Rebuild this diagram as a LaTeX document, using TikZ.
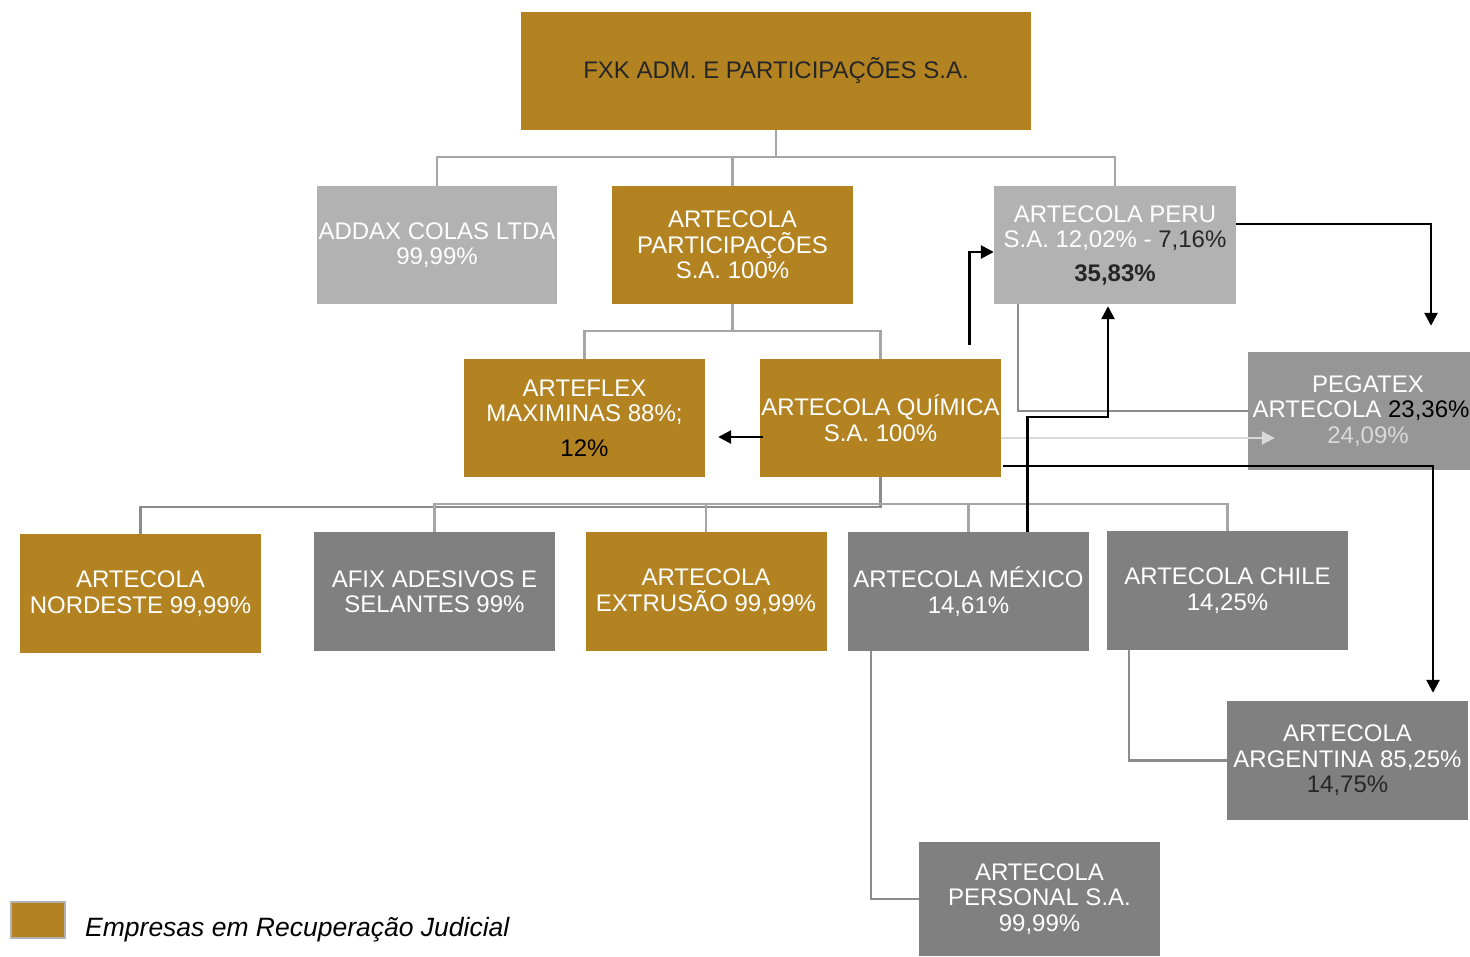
\documentclass[tikz,border=0pt]{standalone}
\usepackage{fontspec}
\setmainfont{Liberation Sans}
\usetikzlibrary{arrows.meta}
\definecolor{gold}{RGB}{179,131,34}
\definecolor{lgray}{RGB}{178,178,178}
\definecolor{mgray}{RGB}{150,150,150}
\definecolor{dgray}{RGB}{128,128,128}
\definecolor{conntop}{RGB}{166,166,166}
\definecolor{connbot}{RGB}{140,140,140}
\definecolor{darktext}{RGB}{38,38,38}
\definecolor{paletext}{RGB}{217,217,217}
\begin{document}
\begin{tikzpicture}[x=1pt,y=-1pt,
  box/.style={rectangle, minimum width=241pt, minimum height=118pt, inner sep=0pt,
    align=center, text=white, font=\fontsize{24}{25.5}\selectfont},
  goldbox/.style={box, fill=gold},
  lightbox/.style={box, fill=lgray},
  midbox/.style={box, fill=mgray},
  darkbox/.style={box, fill=dgray},
  conn/.style={draw=conntop, line width=2.4pt},
  connb/.style={draw=connbot, line width=2.6pt},
  arr/.style={draw=black, line width=2.6pt, -{Triangle[length=13pt,width=13pt]}},
  parr/.style={draw=paletext, line width=2.4pt, -{Triangle[length=13pt,width=13pt]}},
  legsq/.style={rectangle, fill=gold, draw=lgray, line width=2pt, minimum width=54pt, minimum height=36pt, inner sep=0pt}
]
\useasboundingbox (0,0) rectangle (1470,956);

% boxes
\node[goldbox, minimum width=510pt, text=darktext] (fxk) at (776,71) {FXK ADM. E PARTICIPAÇÕES S.A.};
\node[lightbox, minimum width=240pt] (addax) at (437,245) {ADDAX COLAS LTDA\\99,99\%};
\node[goldbox] (part) at (732.5,245) {ARTECOLA\\PARTICIPAÇÕES\\S.A. 100\%};
\node[lightbox, minimum width=242pt] (peru) at (1115,245) {ARTECOLA PERU\\S.A. 12,02\% - \textcolor{darktext}{7,16\%}\\[8pt]\textcolor{darktext}{\bfseries 35,83\%}};
\node[goldbox] (artf) at (584.5,418) {ARTEFLEX\\MAXIMINAS 88\%;\\[9pt]\textcolor{black}{12\%}};
\node[goldbox] (quim) at (880.5,418) {ARTECOLA QUÍMICA\\S.A. 100\%};
\node[midbox, minimum width=222pt] (peg) at (1359,411) {\hspace*{18pt}PEGATEX\\\hspace*{4pt}ARTECOLA \textcolor{black}{23,36\%}\\\hspace*{18pt}\textcolor{paletext}{24,09\%}};
\node[goldbox, minimum height=119pt] (nord) at (140.5,593.5) {ARTECOLA\\NORDESTE 99,99\%};
\node[darkbox, minimum height=119pt] (afix) at (434.5,591.5) {AFIX ADESIVOS E\\SELANTES 99\%};
\node[goldbox, minimum height=119pt] (extr) at (706,591.5) {ARTECOLA\\EXTRUSÃO 99,99\%};
\node[darkbox, minimum height=119pt] (mex) at (968.5,591.5) {ARTECOLA MÉXICO\\14,61\%};
\node[darkbox, minimum height=119pt] (chile) at (1227.5,590.5) {ARTECOLA CHILE\\14,25\%};
\node[darkbox, minimum height=119pt] (arg) at (1347.5,760.5) {ARTECOLA\\ARGENTINA 85,25\%\\\textcolor{darktext}{14,75\%}};
\node[darkbox, minimum height=114pt] (pers) at (1039.5,899) {ARTECOLA\\PERSONAL S.A.\\99,99\%};

% legend
\node[legsq] (leg) at (37.5,919.5) {};
\node[anchor=west, inner sep=0pt, font=\fontsize{26.5}{28}\selectfont\itshape, text=black] (legtxt) at (85,930) {Empresas em Recuperação Judicial};

% top tree connectors
\draw[conn] (fxk.south) -- ++(0,27) coordinate (bus1);
\draw[conn] (addax.north) -- (addax.north |- bus1) -- (peru.north |- bus1) -- (peru.north);
\draw[conn] (part.north) -- (part.north |- bus1);
\draw[conn] (part.south) -- ++(0,27) coordinate (bus2);
\draw[conn] (artf.north) -- (artf.north |- bus2) -- (quim.north |- bus2) -- (quim.north);

% lower tree connectors
\coordinate (busA) at (0,507);
\coordinate (busB) at (0,504);
\draw[connb] (quim.south) -- (quim.south |- busA) -- (nord.north |- busA) -- (nord.north);
\draw[conn] (afix.north) -- (afix.north |- busB) -- (chile.north |- busB) -- (chile.north);
\draw[conn] (extr.north) -- (extr.north |- busB);
\draw[conn] (mex.north) -- (mex.north |- busB);

% side gray connectors
\draw[connb] ([xshift=24pt]peru.south west) |- (peg.west);
\draw[connb] ([xshift=23pt]mex.south west) |- (pers.west);
\draw[connb] ([xshift=22pt]chile.south west) |- (arg.west);

% pale arrow
\draw[parr] ([yshift=-20pt]quim.east) -- ([xshift=27pt,yshift=-27pt]peg.west);

% black arrows
\coordinate (q1) at (969.5,345);
\draw[arr] (q1) |- ([yshift=-7pt]peru.west);
\draw[arr] ([yshift=21pt]peru.east) -| ([xshift=72pt,yshift=26pt]peg.north);
\draw[arr] ([xshift=59pt]mex.north) -- ++(0,-115) -| ([xshift=-7pt,yshift=-2pt]peru.south);
\draw[arr] ([xshift=3pt,yshift=-19pt]quim.west) -- ([xshift=13pt,yshift=-19pt]artf.east);
\draw[arr] ([xshift=2pt,yshift=-48pt]quim.east) -| ([xshift=85.5pt,yshift=8pt]arg.north);
\end{tikzpicture}
\end{document}
